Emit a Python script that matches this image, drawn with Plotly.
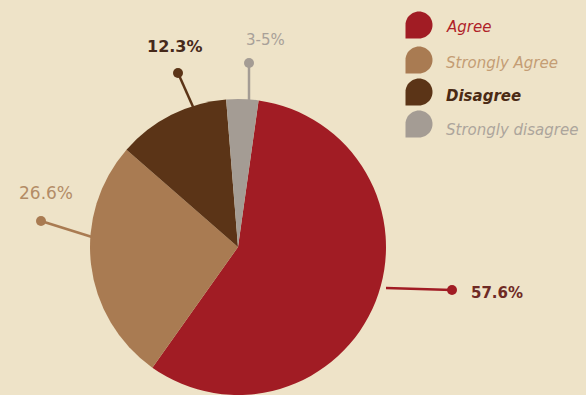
import numpy as np
import plotly.graph_objects as go

# ---- data ----
categories = ["Agree", "Strongly Agree", "Disagree", "Strongly disagree"]
values = [57.6, 26.6, 12.3, 3.5]
value_labels = ["57.6%", "26.6%", "12.3%", "3-5%"]
colors = ["#a11c24", "#a97b52", "#5b3417", "#a49c94"]
label_colors = ["#6e2a24", "#b38c66", "#46291a", "#a8a098"]
legend_text_colors = ["#b01f2a", "#c49d74", "#4a2a14", "#aca59c"]

W, H = 586, 395
BG = "#eee3c8"
FONT = "DejaVu Sans"

fig = go.Figure()

# pie: centre (238, 247), radius 148 px
cx, cy, r = 238, 247, 148
fig.add_trace(go.Pie(
    labels=categories, values=values, sort=False, direction="clockwise",
    rotation=8, marker=dict(colors=colors, line=dict(width=0)),
    textinfo="none", hoverinfo="label+percent", showlegend=False,
    domain=dict(x=[(cx - r) / W, (cx + r) / W], y=[0, 2 * r / H]),
))

# dummy trace so pixel-space axes exist
fig.add_trace(go.Scatter(x=[None], y=[None], showlegend=False, hoverinfo="skip"))

shapes = []
annotations = []

# leader lines + dots + value labels (pixel positions)
leaders = [
    # (line start at pie edge, dot position, text position, anchor, size, bold)
    ((386, 288), (452, 290), (469, 293), "left", 15, True),
    ((92, 237), (41, 221), (46, 193), "center", 17, False),
    ((194, 109), (178, 73), (175, 46), "center", 16, True),
    ((249, 108), (249, 63), (265, 40), "center", 15, False),
]
for i, (p0, p1, pt, anch, fs, bold) in enumerate(leaders):
    shapes.append(dict(type="line", xref="x", yref="y", x0=p0[0], y0=p0[1],
                       x1=p1[0], y1=p1[1], line=dict(color=colors[i], width=2.5),
                       layer="above"))
    shapes.append(dict(type="circle", xref="x", yref="y", x0=p1[0] - 5, x1=p1[0] + 5,
                       y0=p1[1] - 5, y1=p1[1] + 5, fillcolor=colors[i],
                       line=dict(color=colors[i], width=0), layer="above"))
    txt = f"<b>{value_labels[i]}</b>" if bold else value_labels[i]
    annotations.append(dict(x=pt[0], y=pt[1], xref="x", yref="y", text=txt,
                            showarrow=False, xanchor=anch, yanchor="middle",
                            font=dict(family=FONT, size=fs, color=label_colors[i])))


# custom legend with teardrop markers
def teardrop(mx, my, rr):
    th = np.linspace(np.pi, -np.pi / 2, 40)
    xs = mx + rr * np.cos(th)
    ys = my - rr * np.sin(th)
    pts = [f"{x:.2f},{y:.2f}" for x, y in zip(xs, ys)]
    pts.append(f"{mx - rr:.2f},{my + rr:.2f}")
    return "M " + " L ".join(pts) + " Z"


leg_y = [25, 60, 92, 124]
leg_text_y = [27, 63, 96, 130]
for i, cat in enumerate(categories):
    shapes.append(dict(type="path", xref="x", yref="y", path=teardrop(419, leg_y[i], 13.5),
                       fillcolor=colors[i], line=dict(width=0), layer="above"))
    annotations.append(dict(x=444, y=leg_text_y[i], xref="x", yref="y",
                            text=(f"<b><i>{cat}</i></b>" if cat == "Disagree" else f"<i>{cat}</i>"),
                            showarrow=False, xanchor="left", yanchor="middle",
                            font=dict(family=FONT, size=15, color=legend_text_colors[i])))

fig.update_layout(
    width=W, height=H, margin=dict(l=0, r=0, t=0, b=0),
    paper_bgcolor=BG, plot_bgcolor="rgba(0,0,0,0)",
    xaxis=dict(range=[0, W], visible=False, fixedrange=True, domain=[0, 1]),
    yaxis=dict(range=[H, 0], visible=False, fixedrange=True, domain=[0, 1]),
    shapes=shapes, annotations=annotations, showlegend=False,
)

fig.write_html("out.html")
